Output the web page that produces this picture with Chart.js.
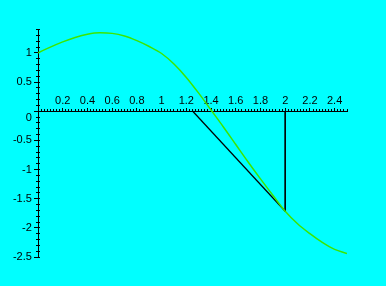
<!DOCTYPE html>
<html>
<head>
<meta charset="utf-8">
<script src="https://cdn.jsdelivr.net/npm/chart.js@4/dist/chart.umd.min.js"></script>
<style>
  body { margin: 0; background: #00ffff; }
  canvas { display: block; }
</style>
</head>
<body>
<canvas id="newtonChart" width="386" height="286"></canvas>
<script>
// curve values
const curveX = [0, 0.1, 0.2, 0.3, 0.4, 0.5, 0.6, 0.7, 0.8, 0.9, 1.0, 1.1, 1.2,
  1.3, 1.4, 1.5, 1.6, 1.7, 1.8, 1.9, 2.0, 2.1, 2.2, 2.3, 2.4, 2.5];
const curveY = [1.0, 1.1, 1.19, 1.265, 1.32, 1.345, 1.335, 1.29, 1.21, 1.11, 0.99,
  0.81, 0.58, 0.31, 0.02, -0.27, -0.57, -0.87, -1.16, -1.44, -1.715, -1.93,
  -2.1, -2.25, -2.37, -2.44];

// tangent at x = 2 and the drop line
const tangentX = [1.252, 2.0];
const tangentY = [0, -1.715];
const dropX = [2.0, 2.0];
const dropY = [0, -1.715];

const xRange = [0, 2.5];
const yRange = [-2.5, 1.41];

function toPoints(xs, ys) {
  return xs.map((x, i) => ({ x: x, y: ys[i] }));
}

function isMultiple(v, step) {
  const r = v / step;
  return Math.abs(r - Math.round(r)) < 1e-6;
}

const labelFont = { family: "Liberation Sans", size: 11 };
// y labels sit right on the axis pixel, so pad them with trailing spaces
const yGap = "  ";

const ctx = document.getElementById("newtonChart").getContext("2d");

const newtonChart = new Chart(ctx, {
  type: "line",
  data: {
    datasets: [
      {
        data: toPoints(curveX, curveY),
        borderColor: "rgb(60, 230, 0)",
        borderWidth: 1.5,
        pointRadius: 0,
        cubicInterpolationMode: "monotone",
      },
      {
        data: toPoints(tangentX, tangentY),
        borderColor: "#000",
        borderWidth: 1.2,
        pointRadius: 0,
      },
      {
        data: toPoints(dropX, dropY),
        borderColor: "#000",
        borderWidth: 1,
        pointRadius: 0,
      },
    ],
  },
  options: {
    responsive: false,
    animation: false,
    devicePixelRatio: 1,
    layout: { padding: { left: 38, right: 39, top: 29, bottom: 29 } },
    plugins: { legend: { display: false }, tooltip: { enabled: false } },
    scales: {
      x: {
        type: "linear",
        position: { y: 0 },
        min: xRange[0],
        max: xRange[1],
        border: { display: true, color: "#000", width: 1 },
        grid: { drawOnChartArea: false, color: "#000", tickLength: -4 },
        ticks: {
          stepSize: 0.2,
          includeBounds: false,
          autoSkip: false,
          maxRotation: 0,
          padding: -13,
          color: "#000",
          font: labelFont,
          callback: (v) => (v === 0 ? "" : String(Math.round(v * 10) / 10)),
        },
      },
      xMinor: {
        type: "linear",
        position: { y: 0 },
        min: xRange[0],
        max: xRange[1],
        border: { display: false },
        grid: { drawOnChartArea: false, color: "#000", tickLength: -2 },
        ticks: { stepSize: 0.025, includeBounds: false, autoSkip: false, display: false },
      },
      y: {
        type: "linear",
        position: { x: 0 },
        min: yRange[0],
        max: yRange[1],
        border: { display: true, color: "#000", width: 1 },
        grid: { drawOnChartArea: false, color: "#000", tickLength: 4 },
        ticks: {
          stepSize: 0.5,
          includeBounds: false,
          autoSkip: false,
          color: "#000",
          font: labelFont,
          callback: (v) => {
            if (!isMultiple(v, 0.5)) return "";
            if (Math.abs(v) < 1e-9) return ["", "0" + yGap];
            return String(Math.round(v * 10) / 10) + yGap;
          },
        },
      },
      yMinorL: {
        type: "linear",
        position: { x: 0 },
        min: yRange[0],
        max: yRange[1],
        border: { display: false },
        grid: { drawOnChartArea: false, color: "#000", tickLength: 2 },
        ticks: { stepSize: 0.1, includeBounds: false, autoSkip: false, display: false },
      },
      yMinorR: {
        type: "linear",
        position: { x: 0 },
        min: yRange[0],
        max: yRange[1],
        border: { display: false },
        grid: { drawOnChartArea: false, color: "#000", tickLength: -2 },
        ticks: { stepSize: 0.1, includeBounds: false, autoSkip: false, display: false },
      },
    },
  },
});
</script>
</body>
</html>
